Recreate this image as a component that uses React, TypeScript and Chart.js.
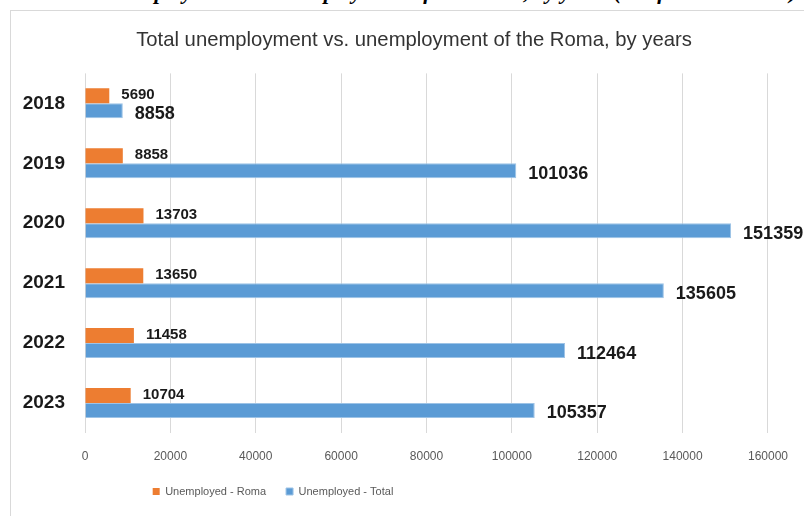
import React, { useEffect, useRef } from "react";
import { Chart, registerables } from "chart.js";

Chart.register(...registerables);

const years = ["2018", "2019", "2020", "2021", "2022", "2023"];
const roma = [5690, 8858, 13703, 13650, 11458, 10704];
const total = [8858, 101036, 151359, 135605, 112464, 105357];
const seriesNames = ["Unemployed - Roma", "Unemployed - Total"];
const chartTitle = "Total unemployment vs. unemployment of the Roma, by years";
const captionText = "Chart 1: Total unemployment vs. unemployment of the Roma, by years (as of 31 December)";

const FONT = "'Liberation Sans', Arial, sans-serif";

const labelPlugin = {
  id: "barValueLabels",
  afterDatasetsDraw(chart: any) {
    const ctx = chart.ctx;
    ctx.save();
    chart.data.datasets.forEach((ds: any, di: number) => {
      const meta = chart.getDatasetMeta(di);
      meta.data.forEach((el: any, i: number) => {
        const v = ds.data[i];
        ctx.font = di === 0 ? `bold 15px ${FONT}` : `bold 18px ${FONT}`;
        ctx.fillStyle = "#1a1a1a";
        ctx.textAlign = "left";
        ctx.textBaseline = "middle";
        ctx.fillText(String(v), el.x + 12, el.y + (di === 0 ? -1 : 3));
      });
    });
    ctx.restore();
  },
};

const boxShift = {
  id: "boxShift",
  afterLayout(chart: any) {
    const l = chart.legend;
    if (l) {
      const target = 263;
      const half = (l.right - l.left) / 2;
      l.left = target - half;
      l.right = target + half;
    }
    const t = chart.titleBlock;
    if (t) {
      const target = 404;
      const half = (t.right - t.left) / 2;
      t.left = target - half;
      t.right = target + half;
    }
  },
};

export default function App() {
  const ref = useRef<HTMLCanvasElement | null>(null);
  useEffect(() => {
    if (!ref.current) return;
    const chart = new Chart(ref.current, {
      type: "bar",
      data: {
        labels: years,
        datasets: [
          {
            label: seriesNames[0],
            data: roma,
            backgroundColor: "#ED7D31",
            categoryPercentage: 0.5,
            barPercentage: 1,
          },
          {
            label: seriesNames[1],
            data: total,
            backgroundColor: "#5B9BD5",
            borderColor: "#9DC3E6",
            borderWidth: 1,
            categoryPercentage: 0.5,
            barPercentage: 1,
          },
        ],
      },
      options: {
        indexAxis: "y",
        animation: false,
        responsive: false,
        maintainAspectRatio: false,
        layout: { padding: { top: 0, left: 0, right: 32, bottom: 9 } },
        scales: {
          x: {
            min: 0,
            max: 160000,
            ticks: {
              stepSize: 20000,
              color: "#595959",
              font: { family: FONT, size: 12 },
              padding: 16,
              maxRotation: 0,
              callback: (v: any) => String(v),
            },
            grid: { color: "#d9d9d9", drawTicks: false },
            border: { display: false },
            afterFit(axis: any) {
              axis.height = 33;
            },
          },
          y: {
            ticks: {
              color: "#1a1a1a",
              font: { family: FONT, size: 19, weight: "bold" },
              padding: 20,
            },
            grid: { display: false, drawTicks: false },
            border: { display: false },
            afterFit(axis: any) {
              axis.width = 75;
            },
          },
        },
        plugins: {
          title: {
            display: true,
            text: chartTitle,
            color: "#333333",
            font: { family: FONT, size: 20.3, weight: "normal" },
            padding: { top: 18, bottom: 21 },
          },
          legend: {
            position: "bottom",
            labels: {
              color: "#595959",
              font: { family: FONT, size: 11 },
              boxWidth: 7,
              boxHeight: 7,
              padding: 20,
            },
          },
          tooltip: { enabled: false },
        },
      },
      plugins: [labelPlugin, boxShift],
    } as any);
    return () => chart.destroy();
  }, []);

  return (
    <div
      style={{
        position: "fixed",
        left: 0,
        top: 0,
        width: 804,
        height: 516,
        overflow: "hidden",
        background: "#ffffff",
      }}
    >
      <div
        style={{
          position: "absolute",
          left: -30,
          top: -19,
          whiteSpace: "nowrap",
          fontFamily: "'Liberation Serif', 'Times New Roman', serif",
          fontWeight: "bold",
          fontStyle: "italic",
          fontSize: 22,
          lineHeight: "22px",
          color: "#000",
        }}
      >
        {captionText}
      </div>
      <div
        style={{
          position: "absolute",
          left: 10,
          top: 10,
          width: 820,
          height: 520,
          border: "1px solid #d9d9d9",
          boxSizing: "border-box",
          background: "#fff",
        }}
      />
      <canvas
        ref={ref}
        width={794}
        height={506}
        style={{ position: "absolute", left: 10, top: 10, width: 794, height: 506 }}
      />
    </div>
  );
}
